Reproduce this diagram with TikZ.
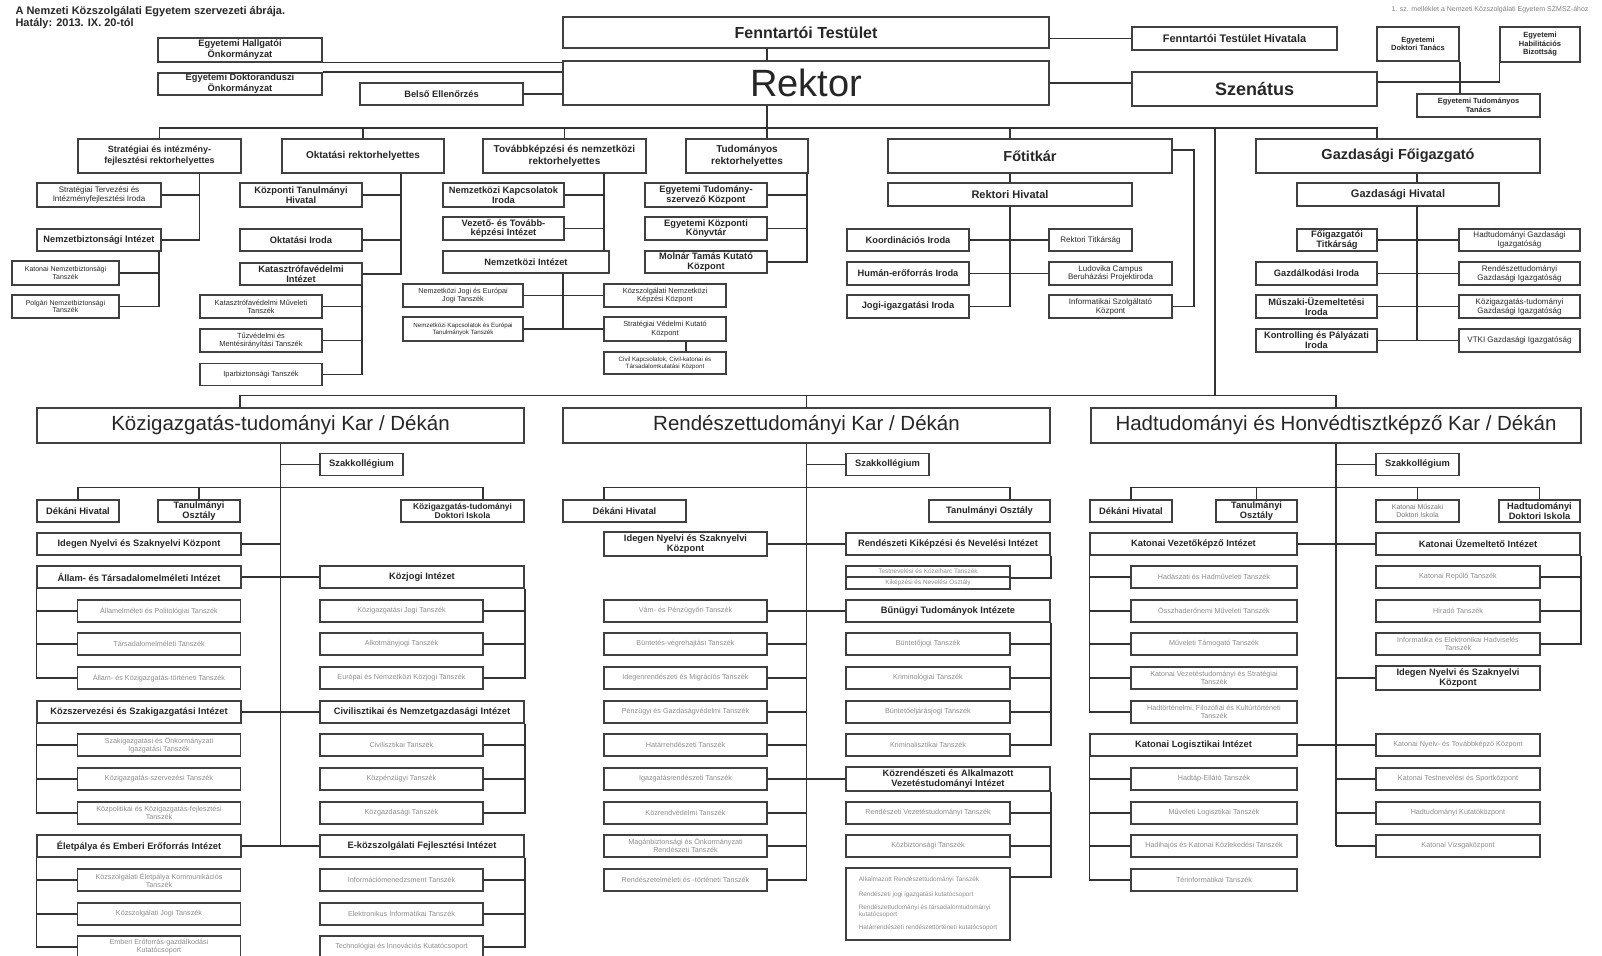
\documentclass[tikz,border=0pt]{standalone}
\usepackage{fontspec}
\setmainfont{Liberation Sans}
\begin{document}
\begin{tikzpicture}[x=1pt,y=-1pt,
  unit/.style={draw=black!75,line width=1.6pt,align=center,inner sep=1pt,text=black!85,font=\fontsize{9.3}{9.8}\selectfont\bfseries},
  plain/.style={unit,font=\fontsize{8}{8.8}\selectfont},
  tsz/.style={unit,minimum width=163pt,minimum height=22pt,text=black!45,font=\fontsize{7.2}{8}\selectfont},
  inst/.style={unit,minimum width=204pt,minimum height=22pt},
  lead/.style={unit,minimum height=34pt,font=\fontsize{10}{11.5}\selectfont\bfseries},
  kar/.style={unit,minimum height=35pt,font=\fontsize{20.5}{22}\selectfont},
  wh/.style 2 args={minimum width=#1pt,minimum height=#2pt},
  link/.style={draw=black!80,line width=1.4pt}]
\useasboundingbox (0,0) rectangle (1602,955);

\node[anchor=north west,align=left,text=black!85,font=\fontsize{11}{11.5}\selectfont\bfseries] (cim) at (12,3) {A Nemzeti Közszolgálati Egyetem szervezeti ábrája.\\Hatály: 2013. IX. 20-tól};
\node[anchor=north east,text=black!50,font=\fontsize{7}{7.5}\selectfont] (melleklet) at (1592,3) {1. sz. melléklet a Nemzeti Közszolgálati Egyetem SZMSZ-ához};

\node[unit,wh={486}{31},font=\fontsize{16}{18}\selectfont\bfseries] (ft) at (806,32.5) {Fenntartói Testület};
\node[unit,wh={205}{23},font=\fontsize{11}{12}\selectfont\bfseries] (fth) at (1234.5,38.5) {Fenntartói Testület Hivatala};
\node[unit,wh={486}{44},font=\fontsize{38}{40}\selectfont] (rektor) at (806,83) {Rektor};
\node[unit,wh={245}{34},font=\fontsize{18}{20}\selectfont\bfseries] (szenatus) at (1254.5,89) {Szenátus};
\node[unit,wh={82}{34},font=\fontsize{7.5}{8.5}\selectfont\bfseries] (edt) at (1418,44) {Egyetemi\\Doktori Tanács};
\node[unit,wh={80}{35},font=\fontsize{7.5}{8.5}\selectfont\bfseries] (ehb) at (1540,44.5) {Egyetemi\\Habilitációs\\Bizottság};
\node[unit,wh={123}{23},font=\fontsize{7.5}{8.5}\selectfont\bfseries] (ett) at (1478.5,105.5) {Egyetemi Tudományos\\Tanács};
\node[unit,wh={164}{24}] (ehok) at (240,50) {Egyetemi Hallgatói\\Önkormányzat};
\node[unit,wh={164}{22}] (edok) at (240,84) {Egyetemi Doktoranduszi\\Önkormányzat};
\node[unit,wh={163}{22}] (belso) at (441.5,94) {Belső Ellenőrzés};

\coordinate (trunk) at (767,128);
\coordinate (karag) at (1215,128);
\coordinate (kbus) at (0,396);
\draw[link] (ft.south -| trunk) -- (rektor.north -| trunk);
\draw[link] (fth.west -| ft.east) -- (fth.west);
\draw[link] (rektor.east) -- (rektor.east -| szenatus.west);
\draw[link] (ehok.south east) -- (ehok.south east -| rektor.west);
\draw[link] (edok.north east) -- (edok.north east -| rektor.west);
\draw[link] (belso.east) -- (belso.east -| rektor.west);
\draw[link] ([yshift=7pt]szenatus.east) -| (ehb.south west);
\draw[link] (edt.south east) -- (edt.south east |- ett.north);

\node[lead,wh={163}{34},font=\fontsize{9}{11}\selectfont\bfseries] (srh) at (159.5,156) {Stratégiai és intézmény-\\fejlesztési rektorhelyettes};
\node[lead,wh={162}{34}] (orh) at (363,156) {Oktatási rektorhelyettes};
\node[lead,wh={163}{34}] (trh) at (564.5,156) {Továbbképzési és nemzetközi\\rektorhelyettes};
\node[lead,wh={122}{34}] (tudrh) at (747,156) {Tudományos\\rektorhelyettes};
\node[lead,wh={284}{34},font=\fontsize{14.5}{16}\selectfont\bfseries] (fotitkar) at (1030,156) {Főtitkár};
\node[lead,wh={284}{34},font=\fontsize{14.5}{16}\selectfont\bfseries] (gfi) at (1398,156) {Gazdasági Főigazgató};

\draw[link] (rektor.south -| trunk) -- (tudrh.north -| trunk);
\draw[link] (srh.north) -- (srh.north |- trunk) -| ([xshift=-21pt]gfi.north);
\draw[link] (orh.north) -- (orh.north |- trunk);
\draw[link] (trh.north) -- (trh.north |- trunk);
\draw[link] (karag) -- (karag |- kbus);

\node[plain,wh={124}{24}] (stio) at (99,195) {Stratégiai Tervezési és\\Intézményfejlesztési Iroda};
\node[unit,wh={124}{22}] (nbi) at (99,240) {Nemzetbiztonsági Intézet};
\node[plain,wh={107}{24},font=\fontsize{7}{7.8}\selectfont] (knt) at (65.5,273) {Katonai Nemzetbiztonsági\\Tanszék};
\node[plain,wh={107}{23},font=\fontsize{7}{7.8}\selectfont] (pnt) at (65.5,306.5) {Polgári Nemzetbiztonsági\\Tanszék};
\coordinate (srhle) at ([xshift=40pt]srh.south);
\coordinate (nbile) at ([xshift=-3pt]nbi.south east);
\draw[link] (srhle) |- (nbi.east) (stio.east) -- (stio.east -| srhle);
\draw[link] (nbile) |- (pnt.east) (knt.east) -- (knt.east -| nbile);

\node[unit,wh={122}{24}] (kth) at (301,195) {Központi Tanulmányi\\Hivatal};
\node[unit,wh={122}{22}] (oktiroda) at (301,240) {Oktatási Iroda};
\node[unit,wh={122}{22}] (kvi) at (301,274) {Katasztrófavédelmi\\Intézet};
\node[plain,wh={122}{23},font=\fontsize{7.4}{8.2}\selectfont] (kmt) at (261,306.5) {Katasztrófavédelmi Műveleti\\Tanszék};
\node[plain,wh={122}{23},font=\fontsize{7.4}{8.2}\selectfont] (tmt) at (261,340.5) {Tűzvédelmi és\\Mentésirányítási Tanszék};
\node[plain,wh={122}{22},font=\fontsize{7.4}{8.2}\selectfont] (ibt) at (261,374.5) {Iparbiztonsági Tanszék};
\coordinate (orhle) at ([xshift=38pt]orh.south);
\coordinate (kvile) at ([xshift=-1pt]kvi.south east);
\draw[link] (orhle) |- (kvi.east) (kth.east) -- (kth.east -| orhle) (oktiroda.east) -- (oktiroda.east -| orhle);
\draw[link] (kvile) |- (ibt.east) (kmt.east) -- (kmt.east -| kvile) (tmt.east) -- (tmt.east -| kvile);

\node[unit,wh={121}{24}] (nki) at (503.5,195) {Nemzetközi Kapcsolatok\\Iroda};
\node[unit,wh={121}{23}] (vti) at (503.5,228.5) {Vezető- és Tovább-\\képzési Intézet};
\node[unit,wh={166}{22}] (ni) at (526,262) {Nemzetközi Intézet};
\node[plain,wh={120}{23},font=\fontsize{7.2}{8}\selectfont] (njet) at (463,295.5) {Nemzetközi Jogi és Európai\\Jogi Tanszék};
\node[plain,wh={120}{24},font=\fontsize{6.2}{7}\selectfont] (nket) at (463,329) {Nemzetközi Kapcsolatok és Európai\\Tanulmányok Tanszék};
\node[plain,wh={122}{23},font=\fontsize{7.4}{8.2}\selectfont] (kkk) at (665,295.5) {Közszolgálati Nemzetközi\\Képzési Központ};
\node[plain,wh={122}{24},font=\fontsize{7.4}{8.2}\selectfont] (svk) at (665,329) {Stratégiai Védelmi Kutató\\Központ};
\node[plain,wh={122}{22},font=\fontsize{6.2}{7}\selectfont] (ckk) at (665,363) {Civil Kapcsolatok, Civil-katonai és\\Társadalomkutatási Központ};
\coordinate (trhle) at ([xshift=39.5pt]trh.south);
\coordinate (nile) at ([xshift=37pt]ni.south);
\draw[link] (trhle) -- (trhle |- ni.north) (nki.east) -- (nki.east -| trhle) (vti.east) -- (vti.east -| trhle);
\draw[link] (nile) -- (nile |- svk.west) (njet.east) -- (kkk.west) (nket.east) -- (svk.west);
\draw[link] ([xshift=21pt]svk.south) -- ([xshift=21pt]ckk.north);

\node[unit,wh={122}{24}] (etk) at (706,195) {Egyetemi Tudomány-\\szervező Központ};
\node[unit,wh={122}{23}] (ekk) at (706,228.5) {Egyetemi Központi\\Könyvtár};
\node[unit,wh={122}{22}] (mtk) at (706,262) {Molnár Tamás Kutató\\Központ};
\coordinate (tudle) at ([xshift=-2pt]tudrh.south east);
\draw[link] (tudle) |- (mtk.east) (etk.east) -- (etk.east -| tudle) (ekk.east) -- (ekk.east -| tudle);

\node[unit,wh={244}{23},font=\fontsize{11}{12}\selectfont\bfseries] (rhiv) at (1010,194.5) {Rektori Hivatal};
\node[unit,wh={122}{22}] (koi) at (908,240) {Koordinációs Iroda};
\node[unit,wh={122}{23}] (hei) at (908,273.5) {Humán-erőforrás Iroda};
\node[unit,wh={122}{23}] (jii) at (908,306.5) {Jogi-igazgatási Iroda};
\node[plain,wh={83}{22}] (rtit) at (1090.5,240) {Rektori Titkárság};
\node[plain,wh={123}{23}] (lcb) at (1110.5,273.5) {Ludovika Campus\\Beruházási Projektiroda};
\node[plain,wh={123}{23}] (isk) at (1110.5,306.5) {Informatikai Szolgáltató\\Központ};
\draw[link] (fotitkar.north -| rhiv.north) -- (rhiv.north |- trunk);
\draw[link] (fotitkar.south -| rhiv.north) -- (rhiv.north);
\draw[link] (rhiv.south) |- (jii.east) (koi.east) -- (rtit.west) (hei.east) -- (lcb.west);
\draw[link] ([yshift=6pt]fotitkar.east) -- ++(21,0) |- (isk.east);

\node[unit,wh={202}{23},font=\fontsize{11}{12}\selectfont\bfseries] (ghiv) at (1398,194.5) {Gazdasági Hivatal};
\node[unit,wh={80}{22}] (fgt) at (1337,240) {Főigazgatói\\Titkárság};
\node[unit,wh={121}{23}] (gi) at (1316.5,273.5) {Gazdálkodási Iroda};
\node[unit,wh={121}{23}] (mui) at (1316.5,306.5) {Műszaki-Üzemeltetési\\Iroda};
\node[unit,wh={121}{23}] (kpi) at (1316.5,340.5) {Kontrolling és Pályázati\\Iroda};
\node[plain,wh={121}{22}] (hgi) at (1519.5,240) {Hadtudományi Gazdasági\\Igazgatóság};
\node[plain,wh={121}{23}] (rgi) at (1519.5,273.5) {Rendészettudományi\\Gazdasági Igazgatóság};
\node[plain,wh={121}{23}] (kgi) at (1519.5,306.5) {Közigazgatás-tudományi\\Gazdasági Igazgatóság};
\node[plain,wh={121}{23}] (vgi) at (1519.5,340.5) {VTKI Gazdasági Igazgatóság};
\coordinate (gfile) at ([xshift=19pt]gfi.south);
\coordinate (ghle) at ([xshift=19pt]ghiv.south);
\draw[link] (gfile) -- (gfile |- ghiv.north) (ghle) -- (ghle |- kpi.east);
\draw[link] (fgt.east) -- (hgi.west) (gi.east) -- (rgi.west) (mui.east) -- (kgi.west) (kpi.east) -- (vgi.west);

\node[kar,wh={487}{35}] (ktk) at (280.5,425.5) {Közigazgatás-tudományi Kar / Dékán};
\node[kar,wh={487}{35}] (rtk) at (806.5,425.5) {Rendészettudományi Kar / Dékán};
\node[kar,wh={490}{35}] (hhk) at (1336,425.5) {Hadtudományi és Honvédtisztképző Kar / Dékán};
\draw[link] ([xshift=-40.5pt]ktk.north) -- ++(0,-12) -| (hhk.north);
\draw[link] (rtk.north) -- (rtk.north |- kbus);

\node[unit,wh={83}{22}] (ksz) at (361.5,464.5) {Szakkollégium};
\node[unit,wh={82}{22}] (kdh) at (78,511) {Dékáni Hivatal};
\node[unit,wh={82}{22}] (kto) at (199,511) {Tanulmányi\\Osztály};
\node[unit,wh={123}{22},font=\fontsize{8.4}{9}\selectfont\bfseries] (kdi) at (462.5,511) {Közigazgatás-tudományi\\Doktori Iskola};
\node[inst] (kinyk) at (139,544) {Idegen Nyelvi és Szaknyelvi Központ};
\node[inst] (kati) at (139,577) {Állam- és Társadalomelméleti Intézet};
\node[inst] (kkji) at (422,577) {Közjogi Intézet};
\node[tsz] (kt11) at (159,611) {Államelméleti és Politológiai Tanszék};
\node[tsz] (kt12) at (159,644) {Társadalomelméleti Tanszék};
\node[tsz] (kt13) at (159,678) {Állam- és Közigazgatás-történeti Tanszék};
\node[tsz] (kt21) at (401.5,611) {Közigazgatási Jogi Tanszék};
\node[tsz] (kt22) at (401.5,644) {Alkotmányjogi Tanszék};
\node[tsz] (kt23) at (401.5,678) {Európai és Nemzetközi Közjogi Tanszék};
\node[inst] (kksz) at (139,712) {Közszervezési és Szakigazgatási Intézet};
\node[inst] (kcni) at (422,712) {Civilisztikai és Nemzetgazdasági Intézet};
\node[tsz] (kt31) at (159,745) {Szakigazgatási és Önkormányzati\\Igazgatási Tanszék};
\node[tsz] (kt32) at (159,779) {Közigazgatás-szervezési Tanszék};
\node[tsz] (kt33) at (159,813) {Közpolitikai és Közigazgatás-fejlesztési\\Tanszék};
\node[tsz] (kt41) at (401.5,745) {Civilisztikai Tanszék};
\node[tsz] (kt42) at (401.5,779) {Közpénzügyi Tanszék};
\node[tsz] (kt43) at (401.5,813) {Közgazdasági Tanszék};
\node[inst] (keei) at (139,846) {Életpálya és Emberi Erőforrás Intézet};
\node[inst] (keki) at (422,846) {E-közszolgálati Fejlesztési Intézet};
\node[tsz] (kt51) at (159,880) {Közszolgálati Életpálya Kommunikációs\\Tanszék};
\node[tsz] (kt52) at (159,914) {Közszolgálati Jogi Tanszék};
\node[tsz] (kt53) at (159,947) {Emberi Erőforrás-gazdálkodási\\Kutatócsoport};
\node[tsz] (kt61) at (401.5,880) {Információmenedzsment Tanszék};
\node[tsz] (kt62) at (401.5,914) {Elektronikus Informatikai Tanszék};
\node[tsz] (kt63) at (401.5,947) {Technológiai és Innovációs Kutatócsoport};

\draw[link] (ktk.south) -- (ktk.south |- keei.east) (ksz.west -| ktk.south) -- (ksz.west);
\draw[link] (kdh.north) -- ++(0,-12) -| ([xshift=20.5pt]kdi.north) (kto.north) -- ++(0,-12);
\draw[link] (kinyk.east) -- (kinyk.east -| ktk.south) (kati.east) -- (kkji.west) (kksz.east) -- (kcni.west) (keei.east) -- (keki.west);
\draw[link] (kati.south west) |- (kt13.west) (kt11.west) -- (kt11.west -| kati.west) (kt12.west) -- (kt12.west -| kati.west);
\draw[link] (kkji.south east) |- (kt23.east) (kt21.east) -- (kt21.east -| kkji.east) (kt22.east) -- (kt22.east -| kkji.east);
\draw[link] (kksz.south west) |- (kt33.west) (kt31.west) -- (kt31.west -| kksz.west) (kt32.west) -- (kt32.west -| kksz.west);
\draw[link] (kcni.south east) |- (kt43.east) (kt41.east) -- (kt41.east -| kcni.east) (kt42.east) -- (kt42.east -| kcni.east);
\draw[link] (keei.south west) |- (kt53.west) (kt51.west) -- (kt51.west -| keei.west) (kt52.west) -- (kt52.west -| keei.west);
\draw[link] (keki.south east) |- (kt63.east) (kt61.east) -- (kt61.east -| keki.east) (kt62.east) -- (kt62.east -| keki.east);

\node[unit,wh={83}{22}] (rsz) at (887.5,464.5) {Szakkollégium};
\node[unit,wh={123}{22}] (rdh) at (624.5,511) {Dékáni Hivatal};
\node[unit,wh={121}{22}] (rto) at (989.5,511) {Tanulmányi Osztály};
\node[unit,wh={163}{24}] (rinyk) at (685.5,544) {Idegen Nyelvi és Szaknyelvi\\Központ};
\node[inst] (rkni) at (948,544) {Rendészeti Kiképzési és Nevelési Intézet};
\node[tsz,wh={164}{11.5},font=\fontsize{6.4}{6.8}\selectfont] (rtkt) at (928,571.5) {Testnevelési és Közelharc Tanszék};
\node[tsz,wh={164}{11.5},font=\fontsize{6.4}{6.8}\selectfont] (rkno) at (928,583) {Kiképzési és Nevelési Osztály};
\node[tsz] (rl1) at (685.5,611) {Vám- és Pénzügyőri Tanszék};
\node[tsz] (rl2) at (685.5,644) {Büntetés-végrehajtási Tanszék};
\node[tsz] (rl3) at (685.5,678) {Idegenrendészeti és Migrációs Tanszék};
\node[tsz] (rl4) at (685.5,712) {Pénzügyi és Gazdaságvédelmi Tanszék};
\node[tsz] (rl5) at (685.5,745) {Határrendészeti Tanszék};
\node[tsz] (rl6) at (685.5,779) {Igazgatásrendészeti Tanszék};
\node[tsz] (rl7) at (685.5,813) {Közrendvédelmi Tanszék};
\node[tsz] (rl8) at (685.5,846) {Magánbiztonsági és Önkormányzati\\Rendészeti Tanszék};
\node[tsz] (rl9) at (685.5,880) {Rendészetelméleti és -történeti Tanszék};
\node[inst] (rbti) at (948,611) {Bűnügyi Tudományok Intézete};
\node[tsz,wh={164}{22}] (rr2) at (928,644) {Büntetőjogi Tanszék};
\node[tsz,wh={164}{22}] (rr3) at (928,678) {Kriminológiai Tanszék};
\node[tsz,wh={164}{22}] (rr4) at (928,712) {Büntetőeljárásjogi Tanszék};
\node[tsz,wh={164}{22}] (rr5) at (928,745) {Kriminalisztikai Tanszék};
\node[inst,wh={204}{24}] (rkavi) at (948,779) {Közrendészeti és Alkalmazott\\Vezetéstudományi Intézet};
\node[tsz,wh={164}{22}] (rr7) at (928,813) {Rendészeti Vezetéstudományi Tanszék};
\node[tsz,wh={164}{22}] (rr8) at (928,846) {Közbiztonsági Tanszék};
\node[tsz,wh={164}{72},align=left,font=\fontsize{6.4}{7.2}\selectfont] (rtall) at (928,904) {Alkalmazott Rendészettudományi Tanszék\\[7pt]Rendészeti jogi igazgatási kutatócsoport\\[6pt]Rendészettudományi és társadalomtudományi\\kutatócsoport\\[6pt]Határrendészeti rendészettörténeti kutatócsoport};

\draw[link] (rtk.south) -- (rtk.south |- rl9.east) (rsz.west -| rtk.south) -- (rsz.west);
\draw[link] ([xshift=-20.5pt]rdh.north) -- ++(0,-12) -| ([xshift=20.5pt]rto.north);
\draw[link] (rinyk.east) -- (rkni.west) (rl1.east) -- (rbti.west) (rl6.east) -- (rkavi.west);
\draw[link] (rl2.east) -- (rl2.east -| rtk.south) (rl3.east) -- (rl3.east -| rtk.south) (rl4.east) -- (rl4.east -| rtk.south) (rl5.east) -- (rl5.east -| rtk.south);
\draw[link] (rl7.east) -- (rl7.east -| rtk.south) (rl8.east) -- (rl8.east -| rtk.south) (rl9.east) -- (rl9.east -| rtk.south);
\draw[link] (rkni.south east) |- (rtkt.south east);
\draw[link] (rbti.south east) |- (rr5.east) (rr2.east) -- (rr2.east -| rbti.east) (rr3.east) -- (rr3.east -| rbti.east) (rr4.east) -- (rr4.east -| rbti.east);
\draw[link] (rkavi.south east) |- ([yshift=27pt]rtall.east) (rr7.east) -- (rr7.east -| rkavi.east) (rr8.east) -- (rr8.east -| rkavi.east);

\node[unit,wh={83}{22}] (hsz) at (1417.5,464.5) {Szakkollégium};
\node[unit,wh={82}{22}] (hdh) at (1131,511) {Dékáni Hivatal};
\node[unit,wh={81}{22}] (hto) at (1256.5,511) {Tanulmányi\\Osztály};
\node[plain,wh={83}{22},text=black!55,font=\fontsize{7}{7.8}\selectfont] (hkmdi) at (1417.5,511) {Katonai Műszaki\\Doktori Iskola};
\node[unit,wh={81}{22}] (hhdi) at (1539.5,511) {Hadtudományi\\Doktori Iskola};
\node[inst,wh={207}{22}] (hkvi) at (1193.5,544) {Katonai Vezetőképző Intézet};
\node[inst] (hkui) at (1478,544) {Katonai Üzemeltető Intézet};
\node[tsz,wh={166}{22}] (hl0) at (1214,577) {Hadászati és Hadműveleti Tanszék};
\node[tsz,wh={166}{22}] (hl1) at (1214,611) {Összhaderőnemi Műveleti Tanszék};
\node[tsz,wh={166}{22}] (hl2) at (1214,644) {Műveleti Támogató Tanszék};
\node[tsz,wh={166}{22}] (hl3) at (1214,678) {Katonai Vezetéstudományi és Stratégiai\\Tanszék};
\node[tsz,wh={166}{22}] (hl4) at (1214,712) {Hadtörténelmi, Filozófiai és Kultúrtörténeti\\Tanszék};
\node[inst,wh={207}{22}] (hkli) at (1193.5,745) {Katonai Logisztikai Intézet};
\node[tsz,wh={166}{22}] (hl6) at (1214,779) {Hadtáp-Ellátó Tanszék};
\node[tsz,wh={166}{22}] (hl7) at (1214,813) {Műveleti Logisztikai Tanszék};
\node[tsz,wh={166}{22}] (hl8) at (1214,846) {Hadihajós és Katonai Közlekedési Tanszék};
\node[tsz,wh={166}{22}] (hl9) at (1214,880) {Térinformatikai Tanszék};
\node[tsz,wh={164}{22}] (hr0) at (1458,577) {Katonai Repülő Tanszék};
\node[tsz,wh={164}{22}] (hr1) at (1458,611) {Híradó Tanszék};
\node[tsz,wh={164}{22}] (hr2) at (1458,644) {Informatika és Elektronikai Hadviselés\\Tanszék};
\node[unit,wh={164}{24}] (hinyk) at (1458,678) {Idegen Nyelvi és Szaknyelvi\\Központ};
\node[tsz,wh={164}{22}] (hr5) at (1458,745) {Katonai Nyelv- és Továbbképző Központ};
\node[tsz,wh={164}{22}] (hr6) at (1458,779) {Katonai Testnevelési és Sportközpont};
\node[tsz,wh={164}{22}] (hr7) at (1458,813) {Hadtudományi Kutatóközpont};
\node[tsz,wh={164}{22}] (hr8) at (1458,846) {Katonai Vizsgaközpont};

\draw[link] (hhk.south) -- (hhk.south |- hr8.west) (hsz.west -| hhk.south) -- (hsz.west);
\draw[link] (hdh.north) -- ++(0,-12) -| (hhdi.north) (hto.north) -- ++(0,-12) (hkmdi.north) -- ++(0,-12);
\draw[link] (hkvi.east) -- (hkui.west) (hkli.east) -- (hr5.west);
\draw[link] (hinyk.west) -- (hinyk.west -| hhk.south) (hr6.west) -- (hr6.west -| hhk.south) (hr7.west) -- (hr7.west -| hhk.south) (hr8.west) -- (hr8.west -| hhk.south);
\draw[link] (hkvi.south west) |- (hl4.west) (hl0.west) -- (hl0.west -| hkvi.west) (hl1.west) -- (hl1.west -| hkvi.west) (hl2.west) -- (hl2.west -| hkvi.west) (hl3.west) -- (hl3.west -| hkvi.west);
\draw[link] (hkli.south west) |- (hl9.west) (hl6.west) -- (hl6.west -| hkli.west) (hl7.west) -- (hl7.west -| hkli.west) (hl8.west) -- (hl8.west -| hkli.west);
\draw[link] (hkui.south east) |- (hr2.east) (hr0.east) -- (hr0.east -| hkui.east) (hr1.east) -- (hr1.east -| hkui.east);
\end{tikzpicture}
\end{document}
